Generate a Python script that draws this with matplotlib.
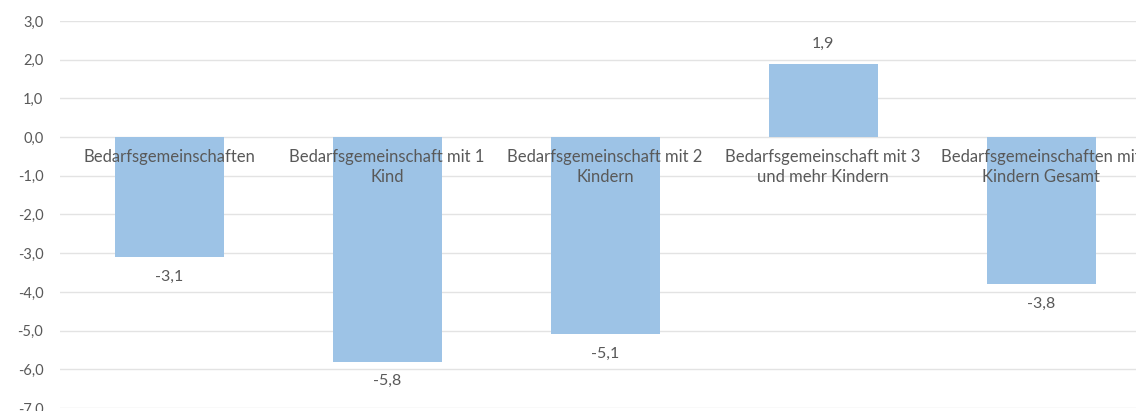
import numpy as np
import matplotlib.pyplot as plt

plt.rcParams['font.family'] = ['Lato', 'DejaVu Sans']

kategorien = ['Bedarfsgemeinschaften',
              'Bedarfsgemeinschaft mit 1\nKind',
              'Bedarfsgemeinschaft mit 2\nKindern',
              'Bedarfsgemeinschaft mit 3\nund mehr Kindern',
              'Bedarfsgemeinschaften mit\nKindern Gesamt']
werte = [-3.1, -5.8, -5.1, 1.9, -3.8]
yticks = np.arange(-7, 4, 1)

textfarbe = '#595959'
fig = plt.figure(figsize=(11.36, 4.11), dpi=100)
ax = fig.add_axes([60/1136, 3/411, 1090/1136, 387/411])

x = np.arange(len(werte))
ax.bar(x, werte, width=0.5, color='#9DC3E6', zorder=2)
ax.set_xlim(-0.5, len(werte) - 0.5)
ax.set_ylim(-7, 3)
ax.set_yticks(yticks)
ax.set_yticklabels([('%.1f' % v).replace('.', ',') for v in yticks], color=textfarbe, fontsize=10.5)
ax.tick_params(axis='y', length=0, pad=12)
ax.set_xticks([])
ax.grid(axis='y', color='#E3E3E3', linewidth=1, zorder=0)
for s in ax.spines.values():
    s.set_visible(False)

# Kategorienamen an der Nulllinie
for xi, name in zip(x, kategorien):
    ax.text(xi, -0.3, name, ha='center', va='top', color=textfarbe, fontsize=12,
            linespacing=1.35, zorder=3)

# Datenbeschriftungen
for xi, v in zip(x, werte):
    off = 0.5 if v > 0 else -0.5
    ax.text(xi, v + off, ('%.1f' % v).replace('.', ','), ha='center', va='center',
            color=textfarbe, fontsize=11.5, zorder=3)

fig.savefig('out.png', dpi=100)
